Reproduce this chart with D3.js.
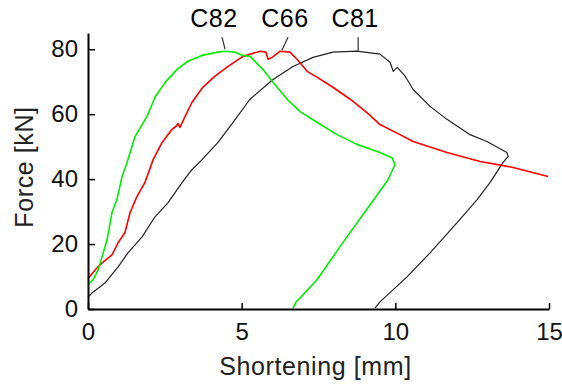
<!DOCTYPE html>
<html>
<head>
<meta charset="utf-8">
<script src="https://cdn.jsdelivr.net/npm/d3@7"></script>
<style>
  body { margin: 0; background: #fff; }
  svg { display: block; font-family: "Liberation Sans", Arial, sans-serif; }
</style>
</head>
<body>
<svg id="chart" width="562" height="385"></svg>
<script>
// shortening [mm], force [kN]
const c82X = [0, 0.16, 0.33, 0.62, 0.78, 0.94, 1.11, 1.27, 1.53, 1.92, 2.18, 2.51, 2.90, 3.25, 3.71, 4.23, 4.46, 4.78, 5.04, 5.27, 5.69, 6.02, 6.48, 6.90, 7.45, 8.10, 8.75, 9.50, 9.89, 9.99, 9.76, 9.18, 8.20, 7.45, 6.90, 6.77, 6.67];
const c82Y = [7.4, 9.0, 12.0, 21.3, 29.7, 33.7, 40.8, 45.1, 53.1, 59.3, 65.2, 69.8, 73.8, 76.3, 78.1, 79.1, 79.4, 79.1, 78.1, 77.8, 73.8, 69.8, 64.6, 60.8, 57.5, 53.7, 50.7, 48.2, 46.6, 44.5, 39.8, 32.1, 19.2, 9.0, 3.4, 2.2, 0.3];

const c66X = [0, 0.23, 0.46, 0.78, 0.98, 1.20, 1.37, 1.59, 1.85, 2.12, 2.41, 2.73, 2.86, 2.93, 2.99, 3.16, 3.38, 3.71, 4.13, 4.56, 5.04, 5.60, 5.79, 5.86, 5.99, 6.25, 6.57, 6.80, 7.13, 7.45, 7.97, 8.53, 9.08, 9.50, 10.15, 10.58, 11.68, 12.76, 13.83, 14.97];
const c66Y = [9.3, 12.0, 14.2, 16.7, 20.4, 23.5, 29.7, 34.6, 38.9, 46.0, 51.3, 55.3, 56.2, 57.1, 55.9, 59.3, 63.6, 68.0, 71.7, 74.7, 77.8, 79.4, 79.1, 76.9, 77.5, 79.4, 79.1, 76.9, 73.2, 71.4, 68.3, 64.6, 60.5, 56.8, 53.7, 51.6, 48.2, 45.4, 43.6, 40.8];

const c81X = [0, 0.13, 0.55, 0.98, 1.30, 1.76, 2.18, 2.60, 3.06, 3.38, 3.71, 4.23, 4.72, 5.27, 6.02, 6.67, 7.32, 7.97, 8.75, 9.50, 9.83, 9.93, 10.06, 10.32, 10.58, 11.13, 11.68, 12.43, 12.98, 13.63, 13.67, 13.50, 13.08, 12.66, 12.01, 11.13, 10.38, 9.50, 9.34];
const c81Y = [3.7, 4.9, 8.0, 13.0, 17.3, 22.2, 28.4, 32.7, 38.9, 42.9, 46.0, 51.3, 57.5, 64.6, 70.7, 74.7, 77.5, 79.1, 79.4, 78.5, 76.0, 73.2, 74.4, 71.7, 67.6, 62.4, 58.4, 53.7, 51.6, 48.2, 47.0, 45.1, 38.9, 33.7, 26.6, 17.3, 9.9, 2.2, 0.3];

// curve labels and the little pointer lines to their peaks
const labelNames = ["C82", "C66", "C81"];
const labelX = [4.10, 6.41, 8.69];
const labelY = 86.8;
const pointerFrom = [[4.36, 83.7], [6.51, 83.7], [8.79, 83.7]];
const pointerTo = [[4.46, 80.0], [6.31, 79.7], [8.79, 79.4]];

const xTicks = [0, 5, 10, 15];
const yTicks = [0, 20, 40, 60, 80];

const svg = d3.select("#chart");

const plotLeft = 88, plotRight = 549, plotTop = 33, plotBottom = 309;

const x = d3.scaleLinear().domain([0, 15]).range([plotLeft, plotRight]);
const y = d3.scaleLinear().domain([0, 85]).range([plotBottom, plotTop]);

const line = d3.line().x(d => x(d[0])).y(d => y(d[1]));

/**
 * draw one force curve
 */
function drawCurve(xs, ys, color, width) {
    svg.append("path")
        .datum(xs.map((v, i) => [v, ys[i]]))
        .attr("fill", "none")
        .attr("stroke", color)
        .attr("stroke-width", width)
        .attr("stroke-linejoin", "round")
        .attr("d", line);
}

drawCurve(c81X, c81Y, "#222", 1.2);
drawCurve(c66X, c66Y, "#ff0000", 1.6);
drawCurve(c82X, c82Y, "#00ee00", 1.6);

// axes
const xAxis = svg.append("g")
    .attr("transform", `translate(0, ${plotBottom})`)
    .call(d3.axisBottom(x).tickValues(xTicks).tickSizeInner(-6).tickSizeOuter(0).tickPadding(14));

const yAxis = svg.append("g")
    .attr("transform", `translate(${plotLeft}, 0)`)
    .call(d3.axisLeft(y).tickValues(yTicks).tickSizeInner(-7).tickSizeOuter(0).tickPadding(10));

[xAxis, yAxis].forEach(a => {
    a.select(".domain").attr("stroke", "#000").attr("stroke-width", 2);
    a.selectAll(".tick line").attr("stroke", "#000").attr("stroke-width", 1.5);
    a.selectAll(".tick text")
        .attr("font-size", 24)
        .attr("font-family", "'Liberation Sans', Arial, sans-serif")
        .attr("fill", "#111");
});

// labels with pointers
labelNames.forEach((name, i) => {
    svg.append("line")
        .attr("x1", x(pointerFrom[i][0]))
        .attr("y1", y(pointerFrom[i][1]))
        .attr("x2", x(pointerTo[i][0]))
        .attr("y2", y(pointerTo[i][1]))
        .attr("stroke", "#333")
        .attr("stroke-width", 1.2);
    svg.append("text")
        .attr("x", x(labelX[i]))
        .attr("y", y(labelY))
        .attr("text-anchor", "middle")
        .attr("font-size", 25)
        .attr("letter-spacing", 0.5)
        .attr("fill", "#000")
        .text(name);
});

// axis titles
svg.append("text")
    .attr("x", (plotLeft + plotRight) / 2 - 3)
    .attr("y", 375)
    .attr("text-anchor", "middle")
    .attr("font-size", 25)
    .attr("letter-spacing", 0.6)
    .attr("fill", "#222")
    .text("Shortening [mm]");

svg.append("text")
    .attr("transform", `translate(33, ${(plotTop + plotBottom) / 2 - 4}) rotate(-90)`)
    .attr("text-anchor", "middle")
    .attr("font-size", 25)
    .attr("letter-spacing", 0.6)
    .attr("fill", "#222")
    .text("Force [kN]");
</script>
</body>
</html>
